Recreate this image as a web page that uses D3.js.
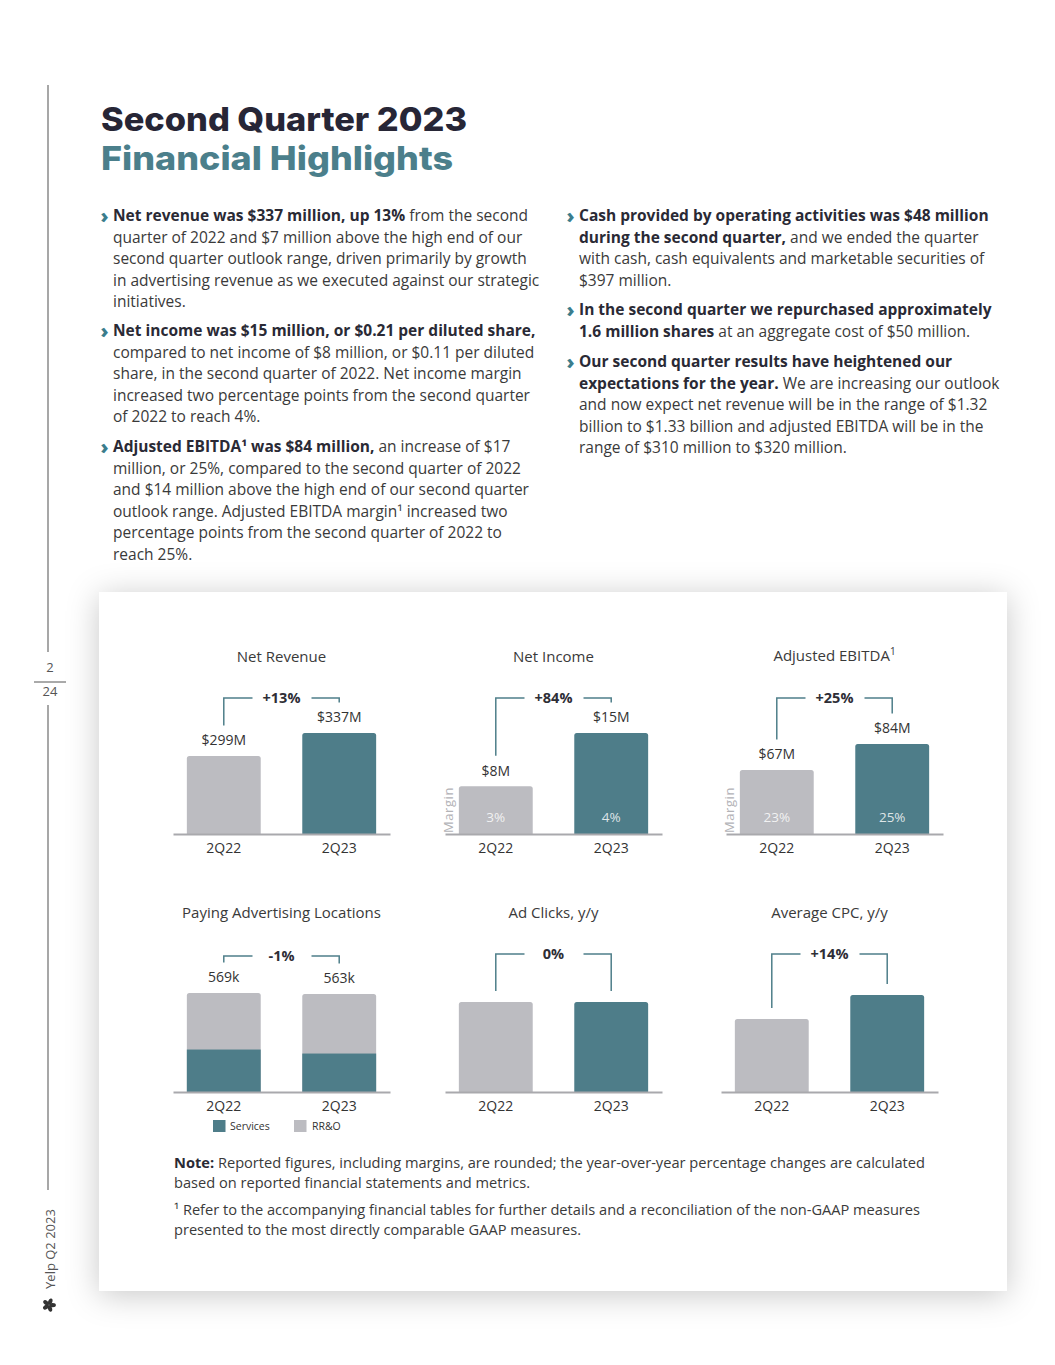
<!DOCTYPE html>
<html><head><meta charset="utf-8">
<script src="https://cdn.jsdelivr.net/npm/d3@7"></script>
<style>
html,body{margin:0;padding:0;background:#fff;}
svg{display:block;}
</style></head>
<body>
<svg id="page" width="1055" height="1365"></svg>
<script>
// ---------------- data ----------------
const categories = ["2Q22", "2Q23"];
const netRevenue = [299, 337];
const netRevenueLabels = ["$299M", "$337M"];
const netIncome = [8, 15];
const netIncomeLabels = ["$8M", "$15M"];
const netIncomeMargin = ["3%", "4%"];
const adjEbitda = [67, 84];
const adjEbitdaLabels = ["$67M", "$84M"];
const adjEbitdaMargin = ["23%", "25%"];
const palServices = [244, 221];
const palRRO = [325, 342];
const palLabels = ["569k", "563k"];
const adClicksIndex = [100, 100];
const avgCpcIndex = [100, 114];
const changeLabels = ["+13%", "+84%", "+25%", "-1%", "0%", "+14%"];
const chartTitles = ["Net Revenue", "Net Income", "Adjusted EBITDA", "Paying Advertising Locations", "Ad Clicks, y/y", "Average CPC, y/y"];
const legendLabels = ["Services", "RR&O"];

// ---------------- styles ----------------
const TEAL = "#4e7d89", GRAY = "#bcbcc1", AXIS = "#a9a9ad", BRACKET = "#4f7f8a";
const FONT = "'Open Sans', sans-serif";
const svg = d3.select("#page");

const defs = svg.append("defs");
const f = defs.append("filter").attr("id", "shadow").attr("x", "-10%").attr("y", "-10%").attr("width", "120%").attr("height", "120%");
f.append("feDropShadow").attr("dx", 0).attr("dy", 4).attr("stdDeviation", 16).attr("flood-color", "#000").attr("flood-opacity", 0.22);

// ---------------- sidebar ----------------
const side = svg.append("g");
side.append("line").attr("x1", 48).attr("x2", 48).attr("y1", 85).attr("y2", 652).attr("stroke", "#8a8a8a").attr("stroke-width", 1.5);
side.append("text").attr("x", 50).attr("y", 667).attr("dy", "0.35em").attr("text-anchor", "middle").attr("font-family", FONT).attr("font-size", 13).attr("fill", "#555").text("2");
side.append("line").attr("x1", 34).attr("x2", 66).attr("y1", 682).attr("y2", 682).attr("stroke", "#555").attr("stroke-width", 1);
side.append("text").attr("x", 50).attr("y", 691).attr("dy", "0.35em").attr("text-anchor", "middle").attr("font-family", FONT).attr("font-size", 13).attr("fill", "#555").text("24");
side.append("line").attr("x1", 48).attr("x2", 48).attr("y1", 705).attr("y2", 1190).attr("stroke", "#8a8a8a").attr("stroke-width", 1.5);
side.append("text").attr("transform", "translate(50,1249) rotate(-90)").attr("dy", "0.35em").attr("text-anchor", "middle")
  .attr("font-family", FONT).attr("font-size", 13).attr("fill", "#555").text("Yelp Q2 2023");
// yelp burst
const burst = side.append("g").attr("transform", "translate(49,1305)");
[0, 72, 144, 216, 288].forEach(a => {
  burst.append("ellipse").attr("cx", 0).attr("cy", -3.6).attr("rx", 2.1).attr("ry", 3.3)
    .attr("transform", `rotate(${a + 20})`).attr("fill", "#333");
});

// ---------------- title ----------------
svg.append("text").attr("x", 101).attr("y", 131).attr("font-family", "Inter, sans-serif").attr("font-weight", 800)
  .attr("font-size", 33).attr("fill", "#272636").attr("textLength", 366).attr("lengthAdjust", "spacingAndGlyphs").text("Second Quarter 2023");
svg.append("text").attr("x", 101).attr("y", 170).attr("font-family", "Inter, sans-serif").attr("font-weight", 800)
  .attr("font-size", 33).attr("fill", "#4b7f8b").attr("textLength", 352).attr("lengthAdjust", "spacingAndGlyphs").text("Financial Highlights");

// ---------------- body text ----------------
const leftParas = [
  {y: 216, lines: [
    [[1, "Net revenue was $337 million, up 13%"], [0, " from the second"]],
    [[0, "quarter of 2022 and $7 million above the high end of our"]],
    [[0, "second quarter outlook range, driven primarily by growth"]],
    [[0, "in advertising revenue as we executed against our strategic"]],
    [[0, "initiatives."]]]},
  {y: 331, lines: [
    [[1, "Net income was $15 million, or $0.21 per diluted share,"]],
    [[0, "compared to net income of $8 million, or $0.11 per diluted"]],
    [[0, "share, in the second quarter of 2022. Net income margin"]],
    [[0, "increased two percentage points from the second quarter"]],
    [[0, "of 2022 to reach 4%."]]]},
  {y: 447, lines: [
    [[1, "Adjusted EBITDA¹ was $84 million,"], [0, " an increase of $17"]],
    [[0, "million, or 25%, compared to the second quarter of 2022"]],
    [[0, "and $14 million above the high end of our second quarter"]],
    [[0, "outlook range. Adjusted EBITDA margin¹ increased two"]],
    [[0, "percentage points from the second quarter of 2022 to"]],
    [[0, "reach 25%."]]]}
];
const rightParas = [
  {y: 216, lines: [
    [[1, "Cash provided by operating activities was $48 million"]],
    [[1, "during the second quarter,"], [0, " and we ended the quarter"]],
    [[0, "with cash, cash equivalents and marketable securities of"]],
    [[0, "$397 million."]]]},
  {y: 310, lines: [
    [[1, "In the second quarter we repurchased approximately"]],
    [[1, "1.6 million shares"], [0, " at an aggregate cost of $50 million."]]]},
  {y: 362, lines: [
    [[1, "Our second quarter results have heightened our"]],
    [[1, "expectations for the year."], [0, " We are increasing our outlook"]],
    [[0, "and now expect net revenue will be in the range of $1.32"]],
    [[0, "billion to $1.33 billion and adjusted EBITDA will be in the"]],
    [[0, "range of $310 million to $320 million."]]]}
];
function drawParas(paras, xChev, xText) {
  paras.forEach(p => {
    svg.append("text").attr("x", xChev - 0.5).attr("y", p.y).attr("dy", "0.34em").attr("font-family", FONT)
      .attr("font-weight", 800).attr("font-size", 20).attr("fill", "#3b7d8c").text("›");
    p.lines.forEach((ln, i) => {
      const t = svg.append("text").attr("x", xText).attr("y", p.y + i * 21.5).attr("dy", "0.35em")
        .attr("font-family", FONT).attr("font-size", 15.5).attr("fill", "#3a3a3a");
      ln.forEach(seg => {
        t.append("tspan").attr("font-weight", seg[0] ? 700 : 400).attr("fill", seg[0] ? "#2a2a35" : "#3a3a3a").text(seg[1]);
      });
    });
  });
}
drawParas(leftParas, 101, 113);
drawParas(rightParas, 567, 579);

// ---------------- card ----------------
svg.append("rect").attr("x", 99).attr("y", 592).attr("width", 908).attr("height", 699).attr("fill", "#fff").attr("filter", "url(#shadow)");

// ---------------- charts ----------------
function barChart(cfg) {
  const g = svg.append("g");
  const x = d3.scaleBand().domain(categories).range([cfg.x0, cfg.x0 + 217]).paddingInner(0.36).paddingOuter(0.12);
  const y = d3.scaleLinear().domain(cfg.domain).range([cfg.base, cfg.base - cfg.h]);
  const mid = cfg.x0 + 108.5;
  // title
  const tt = g.append("text").attr("x", mid).attr("y", cfg.titleY).attr("dy", "0.35em").attr("text-anchor", "middle")
    .attr("font-family", FONT).attr("font-size", 15).attr("fill", "#3a3a3a").text(cfg.title);
  if (cfg.sup) tt.append("tspan").attr("font-size", 10).attr("dy", "-0.6em").text(cfg.sup);
  // bars
  categories.forEach((c, i) => {
    if (cfg.stack) {
      const total = cfg.stack[0][i] + cfg.stack[1][i];
      g.append("path").attr("d", roundTop(x(c), y(total), x.bandwidth(), y(0) - y(total), 2.5)).attr("fill", GRAY);
      g.append("rect").attr("x", x(c)).attr("y", y(cfg.stack[0][i])).attr("width", x.bandwidth()).attr("height", y(0) - y(cfg.stack[0][i])).attr("fill", TEAL);
    } else {
      const v = cfg.values[i];
      g.append("path").attr("d", roundTop(x(c), y(v), x.bandwidth(), cfg.base - y(v), 2.5)).attr("fill", i === 0 ? GRAY : TEAL);
    }
  });
  const topOf = i => cfg.stack ? y(cfg.stack[0][i] + cfg.stack[1][i]) : y(cfg.values[i]);
  // value labels
  if (cfg.labels) cfg.labels.forEach((l, i) => {
    g.append("text").attr("x", x(categories[i]) + x.bandwidth() / 2).attr("y", topOf(i) - 15.5).attr("dy", "0.35em")
      .attr("text-anchor", "middle").attr("font-family", FONT).attr("font-size", 14).attr("fill", "#333").text(l);
  });
  // margin labels
  if (cfg.margins) {
    cfg.margins.forEach((m, i) => {
      g.append("text").attr("x", x(categories[i]) + x.bandwidth() / 2).attr("y", cfg.base - 17).attr("dy", "0.35em")
        .attr("text-anchor", "middle").attr("font-family", FONT).attr("font-size", 13.5).attr("fill", "#fff").attr("fill-opacity", 0.82).text(m);
    });
    g.append("text").attr("transform", `translate(${cfg.x0 + 3.5},${cfg.base - 24}) rotate(-90)`).attr("dy", "0.35em")
      .attr("text-anchor", "middle").attr("font-family", FONT).attr("font-size", 13).attr("letter-spacing", 0.6)
      .attr("fill", "#b3b3b7").text("Margin");
  }
  // bracket
  const c1 = x(categories[0]) + x.bandwidth() / 2, c2 = x(categories[1]) + x.bandwidth() / 2;
  const gap = cfg.labels ? 30.5 : 11;
  const b1 = topOf(0) - gap, b2 = topOf(1) - gap;
  const tc = (c1 + c2) / 2;
  g.append("path").attr("d", `M${c1},${b1}V${cfg.brY}H${tc - 29}`).attr("fill", "none").attr("stroke", BRACKET).attr("stroke-width", 1.5);
  g.append("path").attr("d", `M${tc + 30},${cfg.brY}H${c2}V${b2}`).attr("fill", "none").attr("stroke", BRACKET).attr("stroke-width", 1.5);
  g.append("text").attr("x", tc).attr("y", cfg.brY).attr("dy", "0.35em").attr("text-anchor", "middle")
    .attr("font-family", FONT).attr("font-weight", 700).attr("font-size", 14.5).attr("fill", "#2e2e36").text(cfg.change);
  // axis
  const ax = g.append("g").attr("transform", `translate(0,${cfg.base})`)
    .call(d3.axisBottom(x).tickSize(0).tickSizeOuter(0).tickPadding(9));
  ax.select(".domain").attr("stroke", AXIS).attr("stroke-width", 2);
  ax.selectAll("text").attr("font-family", FONT).attr("font-size", 14).attr("fill", "#333");
  return {g, x};
}
function roundTop(x, y, w, h, r) {
  return `M${x},${y + h}V${y + r}Q${x},${y} ${x + r},${y}H${x + w - r}Q${x + w},${y} ${x + w},${y + r}V${y + h}Z`;
}

barChart({title: chartTitles[0], x0: 173, base: 834, h: 101, domain: [170, 337], values: netRevenue, labels: netRevenueLabels, change: changeLabels[0], titleY: 657, brY: 698});
barChart({title: chartTitles[1], x0: 445, base: 834, h: 101, domain: [1.7, 15], values: netIncome, labels: netIncomeLabels, margins: netIncomeMargin, change: changeLabels[1], titleY: 657, brY: 698});
barChart({title: chartTitles[2], sup: "1", x0: 726, base: 834, h: 90, domain: [25, 84], values: adjEbitda, labels: adjEbitdaLabels, margins: adjEbitdaMargin, change: changeLabels[2], titleY: 656, brY: 698});
barChart({title: chartTitles[3], x0: 173, base: 1092, h: 99, domain: [0, 569], stack: [palServices, palRRO], labels: palLabels, change: changeLabels[3], titleY: 913, brY: 956});
barChart({title: chartTitles[4], x0: 445, base: 1092, h: 90, domain: [0, 100], values: adClicksIndex, change: changeLabels[4], titleY: 913, brY: 954});
barChart({title: chartTitles[5], x0: 721, base: 1092, h: 97, domain: [57.5, 114], values: avgCpcIndex, change: changeLabels[5], titleY: 913, brY: 954});

// legend
const lg = svg.append("g");
[[213, TEAL, 230], [294, GRAY, 312]].forEach((d, i) => {
  lg.append("rect").attr("x", d[0]).attr("y", 1120).attr("width", 12.5).attr("height", 12).attr("fill", d[1]);
  lg.append("text").attr("x", d[2]).attr("y", 1126).attr("dy", "0.35em").attr("font-family", FONT).attr("font-size", 10.5).attr("fill", "#333").text(legendLabels[i]);
});

// ---------------- notes ----------------
const notes = [
  {y: 1163, w: 751, segs: [[1, "Note:"], [0, " Reported figures, including margins, are rounded; the year-over-year percentage changes are calculated"]]},
  {y: 1183, w: 356, segs: [[0, "based on reported financial statements and metrics."]]},
  {y: 1210, w: 746, segs: [[0, "¹ Refer to the accompanying financial tables for further details and a reconciliation of the non-GAAP measures"]]},
  {y: 1230, w: 407, segs: [[0, "presented to the most directly comparable GAAP measures."]]}
];
notes.forEach(n => {
  const t = svg.append("text").attr("x", 174).attr("y", n.y).attr("dy", "0.35em").attr("font-family", FONT)
    .attr("font-size", 14.5).attr("fill", "#3a3a3a").attr("textLength", n.w).attr("lengthAdjust", "spacingAndGlyphs");
  n.segs.forEach(s => t.append("tspan").attr("font-weight", s[0] ? 700 : 400).attr("fill", s[0] ? "#2a2a35" : "#3a3a3a").text(s[1]));
});
</script>
</body></html>
